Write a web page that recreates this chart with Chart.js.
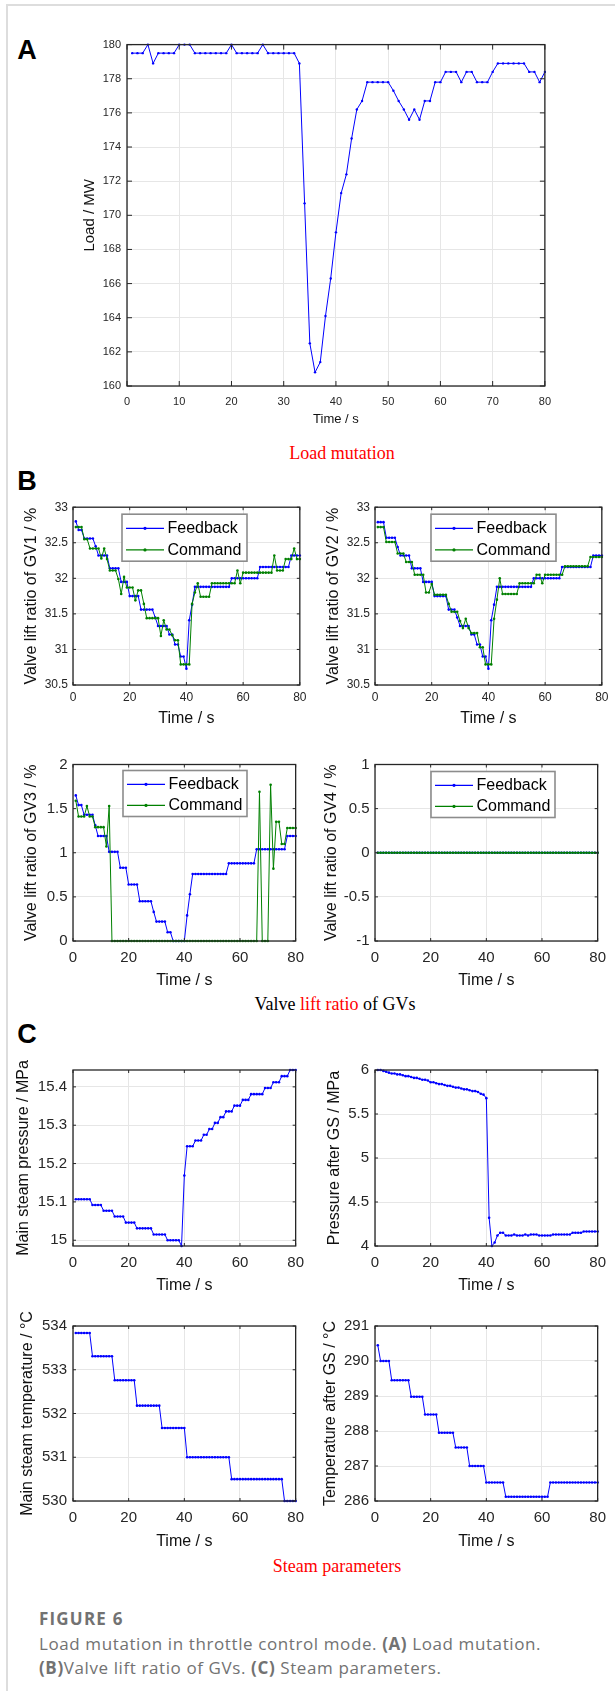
<!DOCTYPE html>
<html>
<head>
<meta charset="utf-8">
<script src="https://cdn.jsdelivr.net/npm/chart.js@4.4.1/dist/chart.umd.min.js"></script>
<style>
  body { margin: 0; background: #fff; }
  #page { position: relative; width: 615px; height: 1691px; overflow: hidden; font-family: "Liberation Sans", Arial, sans-serif; }
  .frame-top { position: absolute; left: 6px; top: 4px; width: 609px; height: 2px; background: #dddddd; }
  .frame-left { position: absolute; left: 6px; top: 4px; width: 2px; height: 1687px; background: #dddddd; }
  .panel { position: absolute; font-weight: bold; font-size: 27px; line-height: 1; transform: translate(-50%, -50%); color: #000; }
  .sub { position: absolute; font-family: "Liberation Serif", "Times New Roman", serif; font-size: 18px; line-height: 1; transform: translate(-50%, -50%); white-space: nowrap; color: #000; }
  .red { color: #ff0000; }
  canvas { position: absolute; }
  .cap { position: absolute; left: 39px; font-family: "Open Sans", sans-serif; color: #727272; white-space: nowrap; line-height: 1; transform: translateY(-50%); font-size: 17px; letter-spacing: 0.6px; }
</style>
</head>
<body>
<div id="page">
  <div class="frame-top"></div>
  <div class="frame-left"></div>
  <div class="panel" style="left:27px;top:50px">A</div>
  <div class="sub red" style="left:342px;top:453px">Load mutation</div>
  <div class="panel" style="left:27px;top:481px">B</div>
  <div class="sub" style="left:335px;top:1004px">Valve <span class="red">lift ratio</span> of GVs</div>
  <div class="panel" style="left:27px;top:1034px">C</div>
  <div class="sub red" style="left:337px;top:1566px">Steam parameters</div>
  <div class="cap" style="top:1618px;font-weight:700;letter-spacing:1.2px">FIGURE 6</div>
  <div class="cap" style="top:1643px">Load mutation in throttle control mode. <b>(A)</b> Load mutation.</div>
  <div class="cap" style="top:1667px"><b>(B)</b>Valve lift ratio of GVs. <b>(C)</b> Steam parameters.</div>
</div>
<script>
// time in seconds, one sample per second
const TIME = [1, 2, 3, 4, 5, 6, 7, 8, 9, 10, 11, 12, 13, 14, 15, 16, 17, 18, 19, 20,
  21, 22, 23, 24, 25, 26, 27, 28, 29, 30, 31, 32, 33, 34, 35, 36, 37, 38, 39, 40,
  41, 42, 43, 44, 45, 46, 47, 48, 49, 50, 51, 52, 53, 54, 55, 56, 57, 58, 59, 60,
  61, 62, 63, 64, 65, 66, 67, 68, 69, 70, 71, 72, 73, 74, 75, 76, 77, 78, 79, 80];
const X_TICKS_A = [0, 10, 20, 30, 40, 50, 60, 70, 80];
const X_TICKS = [0, 20, 40, 60, 80];

// (A) load
const LOAD = [179.5, 179.5, 179.5, 180, 178.9, 179.5, 179.5, 179.5, 179.5, 180,
  180, 180, 179.5, 179.5, 179.5, 179.5, 179.5, 179.5, 179.5, 180,
  179.5, 179.5, 179.5, 179.5, 179.5, 180, 179.5, 179.5, 179.5, 179.5,
  179.5, 179.5, 178.9, 170.7, 162.5, 160.8, 161.4, 164.1, 166.3, 169.0,
  171.3, 172.4, 174.5, 176.2, 176.7, 177.8, 177.8, 177.8, 177.8, 177.8,
  177.3, 176.7, 176.2, 175.6, 176.2, 175.6, 176.7, 176.7, 177.8, 177.8,
  178.4, 178.4, 178.4, 177.8, 178.4, 178.4, 177.8, 177.8, 177.8, 178.4,
  178.9, 178.9, 178.9, 178.9, 178.9, 178.9, 178.4, 178.4, 177.8, 178.4];
const LOAD_TICKS = [160, 162, 164, 166, 168, 170, 172, 174, 176, 178, 180];

// (B) valve lift ratios
const GV1_FEEDBACK = [32.80, 32.68, 32.68, 32.56, 32.56, 32.56, 32.56, 32.45, 32.32, 32.32,
  32.32, 32.32, 32.14, 32.14, 32.14, 32.14, 31.95, 31.95, 31.95, 31.75,
  31.75, 31.75, 31.75, 31.56, 31.56, 31.56, 31.56, 31.56, 31.45, 31.33,
  31.33, 31.33, 31.33, 31.21, 31.21, 31.07, 31.07, 30.90, 30.90, 30.73,
  31.41, 31.63, 31.88, 31.88, 31.88, 31.88, 31.88, 31.88, 31.88, 31.88,
  31.88, 31.88, 31.88, 31.88, 31.88, 32.00, 32.00, 32.00, 32.00, 32.00,
  32.00, 32.00, 32.00, 32.00, 32.00, 32.16, 32.16, 32.16, 32.16, 32.16,
  32.16, 32.16, 32.16, 32.16, 32.16, 32.16, 32.32, 32.32, 32.32, 32.32];
const GV1_COMMAND = [32.72, 32.72, 32.72, 32.55, 32.55, 32.42, 32.42, 32.42, 32.42, 32.28,
  32.42, 32.27, 32.11, 32.11, 32.11, 31.99, 31.78, 32.02, 31.87, 31.87,
  31.87, 31.69, 31.83, 31.83, 31.64, 31.44, 31.44, 31.44, 31.44, 31.44,
  31.19, 31.41, 31.28, 31.28, 31.20, 31.13, 31.13, 30.79, 30.79, 30.79,
  30.79, 31.64, 31.80, 31.93, 31.74, 31.74, 31.74, 31.74, 31.93, 31.93,
  31.93, 31.93, 31.93, 31.93, 31.93, 31.93, 31.93, 32.11, 31.93, 32.08,
  32.08, 32.08, 32.08, 32.08, 32.08, 32.08, 32.08, 32.08, 32.08, 32.08,
  32.32, 32.11, 32.11, 32.11, 32.27, 32.27, 32.27, 32.42, 32.27, 32.27];
const GV2_FEEDBACK = [32.79, 32.79, 32.79, 32.57, 32.57, 32.57, 32.57, 32.44, 32.32, 32.32,
  32.32, 32.32, 32.14, 32.14, 32.14, 32.14, 31.95, 31.95, 31.95, 31.95,
  31.75, 31.75, 31.75, 31.75, 31.75, 31.56, 31.56, 31.56, 31.45, 31.33,
  31.33, 31.33, 31.33, 31.21, 31.21, 31.07, 31.07, 30.90, 30.90, 30.73,
  31.41, 31.63, 31.88, 31.88, 31.88, 31.88, 31.88, 31.88, 31.88, 31.88,
  31.88, 31.88, 31.88, 31.88, 31.88, 32.00, 32.00, 32.00, 32.00, 32.00,
  32.00, 32.00, 32.00, 32.00, 32.00, 32.16, 32.16, 32.16, 32.16, 32.16,
  32.16, 32.16, 32.16, 32.16, 32.16, 32.16, 32.32, 32.32, 32.32, 32.32];
const GV2_COMMAND = [32.72, 32.72, 32.72, 32.51, 32.51, 32.51, 32.51, 32.35, 32.35, 32.35,
  32.23, 32.23, 32.23, 32.05, 32.05, 32.05, 32.05, 31.80, 31.80, 31.92,
  31.77, 31.77, 31.77, 31.77, 31.77, 31.64, 31.53, 31.53, 31.53, 31.40,
  31.30, 31.43, 31.30, 31.23, 31.23, 31.23, 31.03, 31.03, 30.79, 30.79,
  30.79, 31.43, 31.70, 32.00, 31.78, 31.78, 31.78, 31.78, 31.78, 31.78,
  31.93, 31.93, 31.93, 31.93, 31.93, 31.93, 32.05, 32.05, 31.93, 32.05,
  32.05, 32.05, 32.05, 32.05, 32.05, 32.05, 32.17, 32.17, 32.17, 32.17,
  32.17, 32.17, 32.17, 32.17, 32.17, 32.30, 32.30, 32.30, 32.30, 32.30];
const GV12_TICKS = [30.5, 31, 31.5, 32, 32.5, 33];

const GV3_FEEDBACK = [1.65, 1.54, 1.54, 1.43, 1.43, 1.43, 1.43, 1.31, 1.19, 1.19,
  1.19, 1.19, 1.01, 1.01, 1.01, 1.01, 0.83, 0.83, 0.83, 0.64,
  0.64, 0.64, 0.64, 0.45, 0.45, 0.45, 0.45, 0.45, 0.33, 0.22,
  0.22, 0.22, 0.22, 0.10, 0.10, 0, 0, 0, 0, 0,
  0.29, 0.53, 0.76, 0.76, 0.76, 0.76, 0.76, 0.76, 0.76, 0.76,
  0.76, 0.76, 0.76, 0.76, 0.76, 0.88, 0.88, 0.88, 0.88, 0.88,
  0.88, 0.88, 0.88, 0.88, 0.88, 1.04, 1.04, 1.04, 1.04, 1.04,
  1.04, 1.04, 1.04, 1.04, 1.04, 1.04, 1.19, 1.19, 1.19, 1.19];
const GV3_COMMAND = [1.59, 1.41, 1.41, 1.41, 1.53, 1.41, 1.41, 1.29, 1.29, 1.29,
  1.29, 1.07, 1.53, 0, 0, 0, 0, 0, 0, 0,
  0, 0, 0, 0, 0, 0, 0, 0, 0, 0,
  0, 0, 0, 0, 0, 0, 0, 0, 0, 0,
  0, 0, 0, 0, 0, 0, 0, 0, 0, 0,
  0, 0, 0, 0, 0, 0, 0, 0, 0, 0,
  0, 0, 0, 0, 0, 0, 1.69, 0, 0, 0,
  1.77, 0.82, 1.35, 1.35, 1.10, 1.10, 1.28, 1.28, 1.28, 1.28];
const GV3_TICKS = [0, 0.5, 1, 1.5, 2];

const GV4_FEEDBACK = [0, 0, 0, 0, 0, 0, 0, 0, 0, 0, 0, 0, 0, 0, 0, 0, 0, 0, 0, 0,
  0, 0, 0, 0, 0, 0, 0, 0, 0, 0, 0, 0, 0, 0, 0, 0, 0, 0, 0, 0,
  0, 0, 0, 0, 0, 0, 0, 0, 0, 0, 0, 0, 0, 0, 0, 0, 0, 0, 0, 0,
  0, 0, 0, 0, 0, 0, 0, 0, 0, 0, 0, 0, 0, 0, 0, 0, 0, 0, 0, 0];
const GV4_COMMAND = [0, 0, 0, 0, 0, 0, 0, 0, 0, 0, 0, 0, 0, 0, 0, 0, 0, 0, 0, 0,
  0, 0, 0, 0, 0, 0, 0, 0, 0, 0, 0, 0, 0, 0, 0, 0, 0, 0, 0, 0,
  0, 0, 0, 0, 0, 0, 0, 0, 0, 0, 0, 0, 0, 0, 0, 0, 0, 0, 0, 0,
  0, 0, 0, 0, 0, 0, 0, 0, 0, 0, 0, 0, 0, 0, 0, 0, 0, 0, 0, 0];
const GV4_TICKS = [-1, -0.5, 0, 0.5, 1];

// (C) steam parameters
const MAIN_PRESSURE = [15.107, 15.107, 15.107, 15.107, 15.107, 15.107, 15.092, 15.092, 15.092, 15.092,
  15.077, 15.077, 15.077, 15.077, 15.062, 15.062, 15.062, 15.062, 15.046, 15.046,
  15.046, 15.046, 15.031, 15.031, 15.031, 15.031, 15.031, 15.031, 15.015, 15.015,
  15.015, 15.015, 15.015, 15.000, 15.000, 15.000, 15.000, 15.000, 14.985, 15.169,
  15.245, 15.245, 15.245, 15.260, 15.260, 15.260, 15.275, 15.275, 15.290, 15.290,
  15.306, 15.306, 15.321, 15.321, 15.336, 15.336, 15.336, 15.351, 15.351, 15.351,
  15.366, 15.366, 15.366, 15.381, 15.381, 15.381, 15.381, 15.381, 15.397, 15.397,
  15.397, 15.412, 15.412, 15.412, 15.428, 15.428, 15.428, 15.444, 15.444, 15.444];
const MAIN_PRESSURE_TICKS = [15, 15.1, 15.2, 15.3, 15.4];

const GS_PRESSURE = [6.00, 6.00, 5.99, 5.98, 5.97, 5.96, 5.96, 5.95, 5.95, 5.94,
  5.93, 5.93, 5.92, 5.91, 5.91, 5.90, 5.89, 5.89, 5.88, 5.86,
  5.86, 5.85, 5.84, 5.84, 5.83, 5.82, 5.82, 5.81, 5.80, 5.80,
  5.79, 5.78, 5.78, 5.77, 5.76, 5.76, 5.75, 5.73, 5.72, 5.68,
  4.32, 4.00, 4.04, 4.12, 4.15, 4.15, 4.12, 4.12, 4.12, 4.13,
  4.12, 4.12, 4.12, 4.13, 4.12, 4.13, 4.13, 4.13, 4.12, 4.12,
  4.12, 4.12, 4.12, 4.13, 4.13, 4.13, 4.13, 4.13, 4.13, 4.13,
  4.15, 4.15, 4.15, 4.15, 4.165, 4.165, 4.165, 4.165, 4.165, 4.165];
const GS_PRESSURE_TICKS = [4, 4.5, 5, 5.5, 6];

const MAIN_TEMP = [533.84, 533.84, 533.84, 533.84, 533.84, 533.84, 533.31, 533.31, 533.31, 533.31,
  533.31, 533.31, 533.31, 533.31, 532.76, 532.76, 532.76, 532.76, 532.76, 532.76,
  532.76, 532.76, 532.18, 532.18, 532.18, 532.18, 532.18, 532.18, 532.18, 532.18,
  532.18, 531.67, 531.67, 531.67, 531.67, 531.67, 531.67, 531.67, 531.67, 531.67,
  531.0, 531.0, 531.0, 531.0, 531.0, 531.0, 531.0, 531.0, 531.0, 531.0,
  531.0, 531.0, 531.0, 531.0, 531.0, 531.0, 530.5, 530.5, 530.5, 530.5,
  530.5, 530.5, 530.5, 530.5, 530.5, 530.5, 530.5, 530.5, 530.5, 530.5,
  530.5, 530.5, 530.5, 530.5, 530.5, 530.0, 530.0, 530.0, 530.0, 530.0];
const MAIN_TEMP_TICKS = [530, 531, 532, 533, 534];

const GS_TEMP = [290.45, 290.0, 290.0, 290.0, 290.0, 289.45, 289.45, 289.45, 289.45, 289.45,
  289.45, 289.45, 288.98, 288.98, 288.98, 288.98, 288.98, 288.47, 288.47, 288.47,
  288.47, 288.47, 287.95, 287.95, 287.95, 287.95, 287.95, 287.95, 287.53, 287.53,
  287.53, 287.53, 287.53, 287.0, 287.0, 287.0, 287.0, 287.0, 287.0, 286.53,
  286.53, 286.53, 286.53, 286.53, 286.53, 286.53, 286.12, 286.12, 286.12, 286.12,
  286.12, 286.12, 286.12, 286.12, 286.12, 286.12, 286.12, 286.12, 286.12, 286.12,
  286.12, 286.12, 286.53, 286.53, 286.53, 286.53, 286.53, 286.53, 286.53, 286.53,
  286.53, 286.53, 286.53, 286.53, 286.53, 286.53, 286.53, 286.53, 286.53, 286.53];
const GS_TEMP_TICKS = [286, 287, 288, 289, 290, 291];

const BLUE = '#0000ff';
const GREEN = '#008000';

Chart.defaults.font.family = '"Liberation Sans", Arial, sans-serif';
Chart.defaults.color = '#262626';

// MATLAB-like box, inward ticks and boxed legend
const axesBox = {
  id: 'axesBox',
  afterDatasetsDraw(chart, args, opts) {
    const { ctx, chartArea: a, scales: { x, y } } = chart;
    const tl = opts.tick || 4;
    ctx.save();
    ctx.strokeStyle = '#262626';
    ctx.lineWidth = 1;
    ctx.beginPath();
    x.ticks.forEach(t => {
      const px = x.getPixelForValue(t.value);
      ctx.moveTo(px, a.bottom); ctx.lineTo(px, a.bottom - tl);
      ctx.moveTo(px, a.top); ctx.lineTo(px, a.top + tl);
    });
    y.ticks.forEach(t => {
      const py = y.getPixelForValue(t.value);
      ctx.moveTo(a.left, py); ctx.lineTo(a.left + tl, py);
      ctx.moveTo(a.right, py); ctx.lineTo(a.right - tl, py);
    });
    ctx.stroke();
    ctx.lineWidth = 1.3;
    ctx.strokeRect(a.left, a.top, a.right - a.left, a.bottom - a.top);

    const lg = opts.legend;
    if (lg) {
      const bx = a.left + lg.dx, by = a.top + lg.dy;
      ctx.fillStyle = '#fff';
      ctx.fillRect(bx, by, lg.w, lg.h);
      ctx.strokeStyle = '#8c8c8c';
      ctx.lineWidth = 1.6;
      ctx.strokeRect(bx, by, lg.w, lg.h);
      ctx.font = '16px "Liberation Sans", Arial, sans-serif';
      ctx.textBaseline = 'middle';
      chart.data.datasets.forEach((ds, i) => {
        const ry = by + lg.h * (0.3 + 0.46 * i);
        ctx.strokeStyle = ds.borderColor;
        ctx.lineWidth = 1.2;
        ctx.beginPath();
        ctx.moveTo(bx + 4, ry); ctx.lineTo(bx + 42, ry);
        ctx.stroke();
        ctx.fillStyle = ds.borderColor;
        ctx.beginPath(); ctx.arc(bx + 23, ry, 1.6, 0, Math.PI * 2); ctx.fill();
        ctx.fillStyle = '#000';
        ctx.fillText(ds.label, bx + 45.5, ry + 0.5);
      });
    }
    ctx.restore();
  }
};

const page = document.getElementById('page');

function build(cfg) {
  const g = cfg.g;
  const yLH = g.yTitle * 1.2, xLH = g.xTitle * 1.2;
  const left = Math.round(g.yTitleX - yLH / 2);
  const top = g.T - 10;
  const right = g.R + 12;
  const bottom = Math.round(g.xTitleY + xLH / 2);
  const cv = document.createElement('canvas');
  cv.width = right - left;
  cv.height = bottom - top;
  cv.style.left = left + 'px';
  cv.style.top = top + 'px';
  cv.style.width = (right - left) + 'px';
  cv.style.height = (bottom - top) + 'px';
  page.appendChild(cv);

  const datasets = cfg.series.map(s => ({
    label: s.label,
    data: TIME.map((t, i) => ({ x: t, y: s.values[i] })),
    borderColor: s.color,
    backgroundColor: s.color,
    borderWidth: 1,
    pointRadius: g.point,
    pointBorderWidth: 0,
    pointBackgroundColor: s.color,
    tension: 0,
    clip: false,
    order: s.order || 0
  }));

  return new Chart(cv, {
    type: 'line',
    data: { datasets },
    options: {
      responsive: false,
      animation: false,
      devicePixelRatio: 1,
      events: [],
      layout: { padding: { top: 10, right: 12, left: 0, bottom: 0 } },
      plugins: {
        legend: { display: false },
        tooltip: { enabled: false },
        axesBox: { tick: g.tickLen, legend: cfg.legend }
      },
      scales: {
        x: {
          type: 'linear', min: 0, max: 80,
          afterBuildTicks: s => { s.ticks = cfg.xTicks.map(v => ({ value: v })); },
          afterFit: s => { s.height = bottom - g.B; },
          grid: { color: '#e6e6e6', drawTicks: false },
          border: { display: false },
          ticks: { font: { size: g.tick }, padding: g.padX, maxRotation: 0, autoSkip: false, callback: v => String(v) },
          title: { display: true, text: 'Time / s', font: { size: g.xTitle }, color: '#111', padding: 0 }
        },
        y: {
          type: 'linear', min: cfg.yMin, max: cfg.yMax,
          afterBuildTicks: s => { s.ticks = cfg.yTicks.map(v => ({ value: v })); },
          afterFit: s => { s.width = g.L - left; },
          grid: { color: '#e6e6e6', drawTicks: false },
          border: { display: false },
          ticks: { font: { size: g.tick }, padding: g.padY, autoSkip: false, callback: v => String(v) },
          title: { display: true, text: cfg.yLabel, font: { size: g.yTitle }, color: '#111', padding: 0 }
        }
      }
    },
    plugins: [axesBox]
  });
}

function pair(fb, cmd) {
  return [
    { label: 'Feedback', values: fb, color: BLUE, order: 1 },
    { label: 'Command', values: cmd, color: GREEN, order: 0 }
  ];
}

// (A)
build({
  g: { L: 127, R: 548, T: 42, B: 386, yTitleX: 90, xTitleY: 419, tick: 11, yTitle: 15, xTitle: 13, padX: 9, padY: 6, tickLen: 5, point: 1.2 },
  series: [{ label: 'Load', values: LOAD, color: BLUE }],
  xTicks: X_TICKS_A, yTicks: LOAD_TICKS, yMin: 160, yMax: 180, yLabel: 'Load / MW'
});

// (B)
const topRow = { T: 505, B: 685, xTitleY: 718, tick: 12, yTitle: 16, xTitle: 16, padX: 5.5, padY: 5, tickLen: 3, point: 1.3 };
const botRow = { T: 760, B: 941, xTitleY: 980, tick: 15, yTitle: 16, xTitle: 16, padX: 8, padY: 5.5, tickLen: 3, point: 1.3 };
build({
  g: Object.assign({ L: 73, R: 300, yTitleX: 32 }, topRow),
  series: pair(GV1_FEEDBACK, GV1_COMMAND),
  xTicks: X_TICKS, yTicks: GV12_TICKS, yMin: 30.5, yMax: 33, yLabel: 'Valve lift ratio of GV1 / %',
  legend: { dx: 49, dy: 7, w: 125, h: 47 }
});
build({
  g: Object.assign({ L: 375, R: 602, yTitleX: 334 }, topRow),
  series: pair(GV2_FEEDBACK, GV2_COMMAND),
  xTicks: X_TICKS, yTicks: GV12_TICKS, yMin: 30.5, yMax: 33, yLabel: 'Valve lift ratio of GV2 / %',
  legend: { dx: 56, dy: 7, w: 125, h: 47 }
});
build({
  g: Object.assign({ L: 73, R: 300, yTitleX: 32 }, botRow),
  series: pair(GV3_FEEDBACK, GV3_COMMAND),
  xTicks: X_TICKS, yTicks: GV3_TICKS, yMin: 0, yMax: 2, yLabel: 'Valve lift ratio of GV3 / %',
  legend: { dx: 50, dy: 6, w: 124, h: 46 }
});
build({
  g: Object.assign({ L: 375, R: 602, yTitleX: 332 }, botRow),
  series: pair(GV4_FEEDBACK, GV4_COMMAND),
  xTicks: X_TICKS, yTicks: GV4_TICKS, yMin: -1, yMax: 1, yLabel: 'Valve lift ratio of GV4 / %',
  legend: { dx: 56, dy: 7, w: 124, h: 46 }
});

// (C)
const cTop = { T: 1065, B: 1246, xTitleY: 1285, tick: 15, yTitle: 16, xTitle: 16, padX: 8, padY: 6, tickLen: 3, point: 1.3 };
const cBot = { T: 1321, B: 1501, xTitleY: 1541, tick: 15, yTitle: 16, xTitle: 16, padX: 8, padY: 6, tickLen: 3, point: 1.3 };
build({
  g: Object.assign({ L: 73, R: 300, yTitleX: 24 }, cTop),
  series: [{ label: 'Main steam pressure', values: MAIN_PRESSURE, color: BLUE }],
  xTicks: X_TICKS, yTicks: MAIN_PRESSURE_TICKS, yMin: 14.985, yMax: 15.444, yLabel: 'Main steam pressure / MPa'
});
build({
  g: Object.assign({ L: 375, R: 602, yTitleX: 335 }, cTop),
  series: [{ label: 'Pressure after GS', values: GS_PRESSURE, color: BLUE }],
  xTicks: X_TICKS, yTicks: GS_PRESSURE_TICKS, yMin: 4, yMax: 6, yLabel: 'Pressure after GS / MPa'
});
build({
  g: Object.assign({ L: 73, R: 300, yTitleX: 28 }, cBot),
  series: [{ label: 'Main steam temperature', values: MAIN_TEMP, color: BLUE }],
  xTicks: X_TICKS, yTicks: MAIN_TEMP_TICKS, yMin: 530, yMax: 534, yLabel: 'Main steam temperature / °C'
});
build({
  g: Object.assign({ L: 375, R: 602, yTitleX: 331 }, cBot),
  series: [{ label: 'Temperature after GS', values: GS_TEMP, color: BLUE }],
  xTicks: X_TICKS, yTicks: GS_TEMP_TICKS, yMin: 286, yMax: 291, yLabel: 'Temperature after GS / °C'
});
</script>
</body>
</html>
